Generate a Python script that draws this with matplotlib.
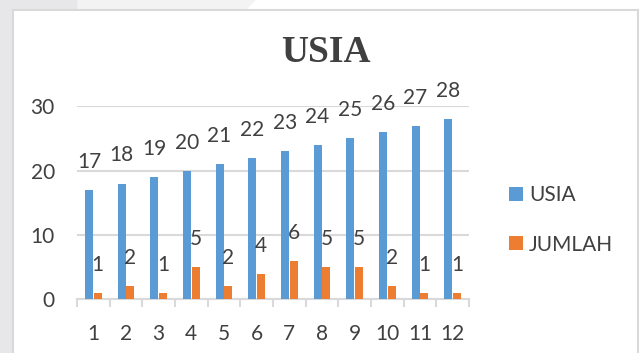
import numpy as np
import matplotlib.pyplot as plt
from matplotlib.patches import Rectangle, Polygon

categories = ["1", "2", "3", "4", "5", "6", "7", "8", "9", "10", "11", "12"]
usia = [17, 18, 19, 20, 21, 22, 23, 24, 25, 26, 27, 28]
jumlah = [1, 2, 1, 5, 2, 4, 6, 5, 5, 2, 1, 1]

blue = "#5B9BD5"
orange = "#ED7D31"
txt = "#404040"
font = "Lato"

W, H = 642, 353
fig = plt.figure(figsize=(W / 100, H / 100), dpi=100)
fig.patch.set_facecolor("white")

# page background behind the chart box
bg = fig.add_axes([0, 0, 1, 1])
bg.set_xlim(0, W)
bg.set_ylim(H, 0)
bg.axis("off")
bg.add_patch(Rectangle((0, 0), 78, H, color="#e7e7e9", zorder=0))
bg.add_patch(Polygon([(78, 0), (255, 0), (245, 10), (78, 10)], color="#f3f3f4", zorder=0))
bg.add_patch(Rectangle((13, 10), 625, H, facecolor="white", edgecolor="#d9d9d9", lw=1.5, zorder=1))

ax = fig.add_axes([77 / W, 1 - 299.3 / H, 392 / W, 193 / H])
ax.set_facecolor("none")
x = np.arange(len(categories))
w = 0.25
b1 = ax.bar(x - 0.135, usia, w, color=blue, label="USIA", zorder=3)
b2 = ax.bar(x + 0.135, jumlah, w, color=orange, label="JUMLAH", zorder=3)

for bars, vals in [(b1, usia), (b2, jumlah)]:
    for r, v in zip(bars, vals):
        ax.annotate(str(v), (r.get_x() + r.get_width() / 2, v), xytext=(0, 13),
                    textcoords="offset points", ha="center", va="bottom",
                    fontsize=15, color=txt, family=font, annotation_clip=False)

ax.set_xlim(-0.5, len(categories) - 0.5)
ax.set_ylim(0, 30)
ax.set_yticks([0, 10, 20, 30])
ax.yaxis.grid(True, color="#d9d9d9", lw=1.5, zorder=0)
ax.set_axisbelow(True)
for s in ["left", "right", "top"]:
    ax.spines[s].set_visible(False)
ax.spines["bottom"].set_color("#d9d9d9")
ax.spines["bottom"].set_linewidth(1.5)
ax.tick_params(axis="y", length=0, pad=16, labelsize=15, labelcolor=txt)
ax.set_xticks(x)
ax.set_xticklabels(categories)
ax.set_xticks(np.arange(-0.5, len(categories)), minor=True)
ax.tick_params(axis="x", which="major", length=0, pad=18, labelsize=15, labelcolor=txt)
ax.tick_params(axis="x", which="minor", length=6, width=1.5, color="#d9d9d9")
for lab in ax.get_xticklabels() + ax.get_yticklabels():
    lab.set_family(font)

fig.text(326 / W, 1 - 52.5 / H, "USIA", ha="center", va="center", fontsize=27,
         fontweight="bold", family="Liberation Serif", color=txt)

leg = fig.legend(handles=[b1, b2], loc="center left", bbox_to_anchor=(509 / W, 1 - 220 / H),
                 frameon=False, prop={"family": font, "size": 15}, handlelength=0.65,
                 handleheight=0.65, handletextpad=0.3, labelspacing=1.4,
                 borderpad=0, borderaxespad=0)
for t in leg.get_texts():
    t.set_color(txt)

fig.savefig("out.png", dpi=100)
